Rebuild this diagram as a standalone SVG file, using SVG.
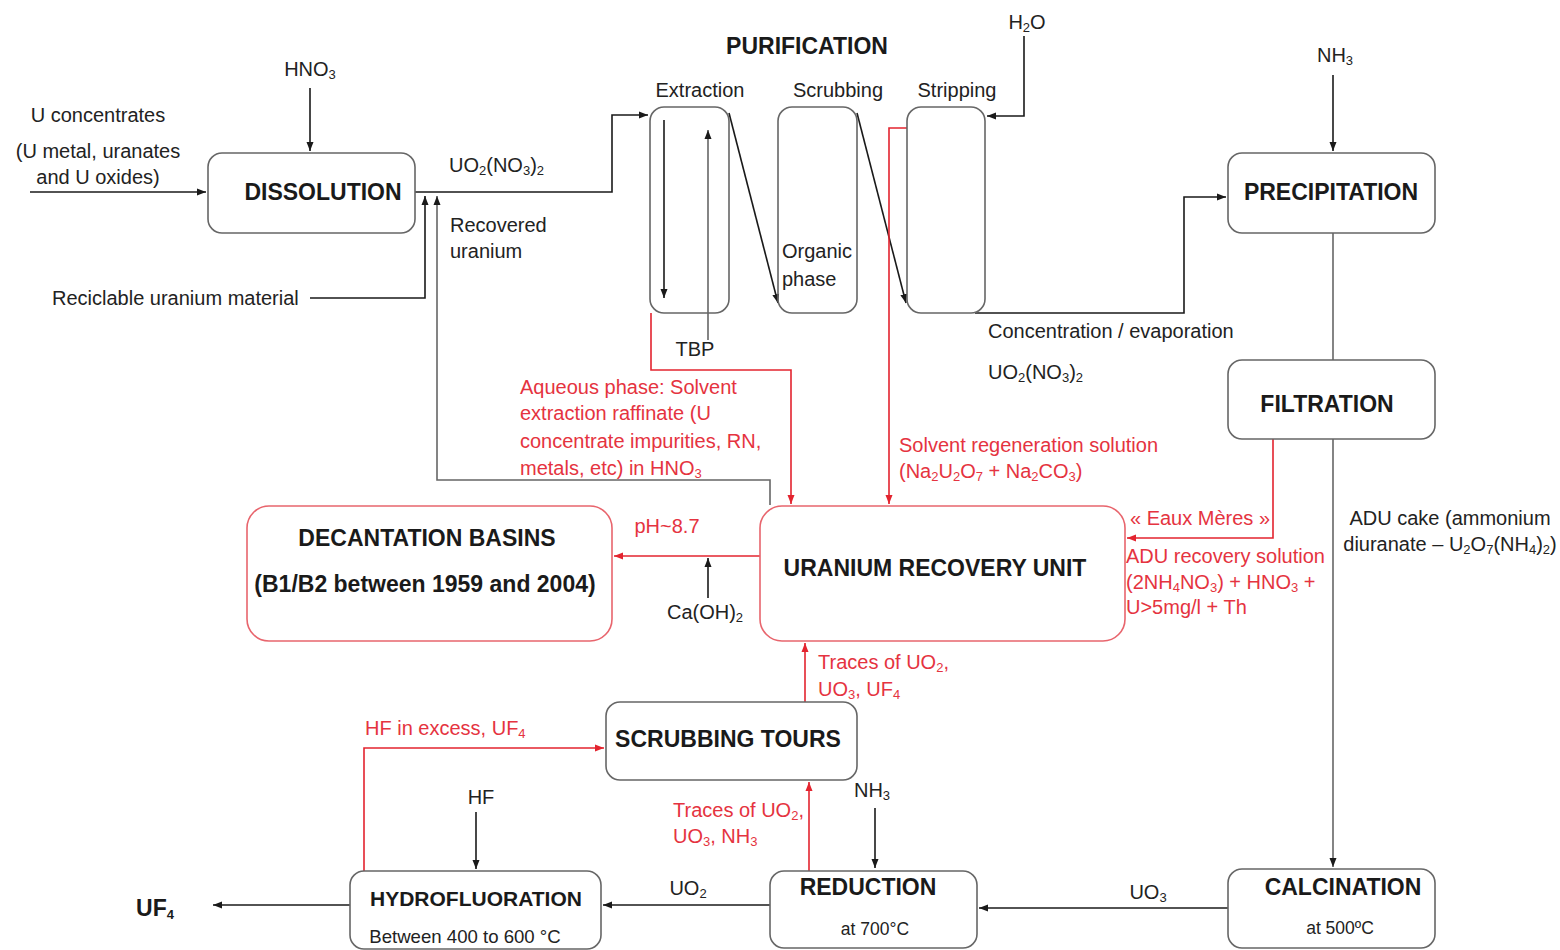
<svg xmlns="http://www.w3.org/2000/svg" width="1560" height="950" viewBox="0 0 1560 950">
<style>
text{font-family:"Liberation Sans",Arial,sans-serif;fill:#222;font-size:20px}
.b{font-weight:bold;font-size:23px;fill:#1a1a1a}
.r{fill:#e53340}
.m{text-anchor:middle}
.sub{font-size:13px}
.hf{font-size:21px}
.sm{font-size:17.5px}
.bt{font-size:18.6px}
.box{fill:#fff;stroke:#666;stroke-width:1.6}
.rbox{fill:#fff;stroke:#e8656d;stroke-width:1.6}
.k{fill:none;stroke:#1a1a1a;stroke-width:1.6}
.g{fill:none;stroke:#666;stroke-width:1.6}
.rl{fill:none;stroke:#e3242f;stroke-width:1.6}
</style>
<defs>
<marker id="ak" markerWidth="10" markerHeight="10" refX="9" refY="5" orient="auto" markerUnits="userSpaceOnUse"><path d="M0,1.5 L9,5 L0,8.5 z" fill="#1a1a1a"/></marker>
<marker id="ar" markerWidth="10" markerHeight="10" refX="9" refY="5" orient="auto" markerUnits="userSpaceOnUse"><path d="M0,1.5 L9,5 L0,8.5 z" fill="#e3242f"/></marker>
</defs>
<rect width="1560" height="950" fill="#fff"/>

<g id="connectors">
<path class="k" d="M30,192 H206" marker-end="url(#ak)"/>
<path class="k" d="M310,88 V151" marker-end="url(#ak)"/>
<path class="k" d="M415,192 H612 V115 H648" marker-end="url(#ak)"/>
<path class="k" d="M310,298 H425 V196" marker-end="url(#ak)"/>
<path class="g" d="M770,505 V480 H437 V196" marker-end="url(#ak)"/>
<path class="k" d="M664,120 V298" marker-end="url(#ak)"/>
<path class="g" d="M708,340 V130" marker-end="url(#ak)"/>
<path class="k" d="M729,113 L778,303" marker-end="url(#ak)"/>
<path class="k" d="M857,113 L906,303" marker-end="url(#ak)"/>
<path class="k" d="M1024,36 V116 H987" marker-end="url(#ak)"/>
<path class="k" d="M975,313 H1184 V197 H1226" marker-end="url(#ak)"/>
<path class="k" d="M1333,75 V151" marker-end="url(#ak)"/>
<path class="g" d="M1333,233 V360"/>
<path class="g" d="M1333,439 V867" marker-end="url(#ak)"/>
<path class="rl" d="M651,313 V370 H791 V504" marker-end="url(#ar)"/>
<path class="rl" d="M907,128 H889 V504" marker-end="url(#ar)"/>
<path class="rl" d="M1273,439 V538 H1127" marker-end="url(#ar)"/>
<path class="rl" d="M760,556 H614" marker-end="url(#ar)"/>
<path class="k" d="M708,598 V558" marker-end="url(#ak)"/>
<path class="rl" d="M805,702 V643" marker-end="url(#ar)"/>
<path class="rl" d="M364,871 V748 H604" marker-end="url(#ar)"/>
<path class="k" d="M476,812 V869" marker-end="url(#ak)"/>
<path class="rl" d="M809,871 V782" marker-end="url(#ar)"/>
<path class="k" d="M875,808 V868" marker-end="url(#ak)"/>
<path class="k" d="M770,905 H603" marker-end="url(#ak)"/>
<path class="k" d="M1228,908 H979" marker-end="url(#ak)"/>
<path class="k" d="M350,905 H213" marker-end="url(#ak)"/>
</g>

<g id="labels">
<text class="m" x="310" y="76">HNO<tspan class="sub" dy="3">3</tspan></text>
<text class="m" x="98" y="122">U concentrates</text>
<text class="m" x="98" y="158">(U metal, uranates</text>
<text class="m" x="98" y="184">and U oxides)</text>
<text x="449" y="172">UO<tspan class="sub" dy="3">2</tspan><tspan dy="-3">(NO</tspan><tspan class="sub" dy="3">3</tspan><tspan dy="-3">)</tspan><tspan class="sub" dy="3">2</tspan></text>
<text x="450" y="232">Recovered</text>
<text x="450" y="258">uranium</text>
<text x="52" y="305">Reciclable uranium material</text>
<text class="b m" x="807" y="54">PURIFICATION</text>
<text class="m" x="700" y="97">Extraction</text>
<text class="m" x="838" y="97">Scrubbing</text>
<text class="m" x="957" y="97">Stripping</text>
<text class="m" x="1027" y="29">H<tspan class="sub" dy="3">2</tspan><tspan dy="-3">O</tspan></text>
<text x="782" y="258">Organic</text>
<text x="782" y="286">phase</text>
<text class="m" x="695" y="356">TBP</text>
<text x="988" y="338">Concentration / evaporation</text>
<text x="988" y="379">UO<tspan class="sub" dy="3">2</tspan><tspan dy="-3">(NO</tspan><tspan class="sub" dy="3">3</tspan><tspan dy="-3">)</tspan><tspan class="sub" dy="3">2</tspan></text>
<text class="m" x="1335" y="62">NH<tspan class="sub" dy="3">3</tspan></text>
<text class="r" x="520" y="394">Aqueous phase: Solvent</text>
<text class="r" x="520" y="420">extraction raffinate (U</text>
<text class="r" x="520" y="448">concentrate impurities, RN,</text>
<text class="r" x="520" y="475">metals, etc) in HNO<tspan class="sub" dy="3">3</tspan></text>
<text class="r" x="899" y="452">Solvent regeneration solution</text>
<text class="r" x="899" y="478">(Na<tspan class="sub" dy="3">2</tspan><tspan dy="-3">U</tspan><tspan class="sub" dy="3">2</tspan><tspan dy="-3">O</tspan><tspan class="sub" dy="3">7</tspan><tspan dy="-3"> + Na</tspan><tspan class="sub" dy="3">2</tspan><tspan dy="-3">CO</tspan><tspan class="sub" dy="3">3</tspan><tspan dy="-3">)</tspan></text>
<text class="r m" x="1200" y="525">« Eaux Mères »</text>
<text class="r" x="1126" y="563">ADU recovery solution</text>
<text class="r" x="1126" y="589">(2NH<tspan class="sub" dy="3">4</tspan><tspan dy="-3">NO</tspan><tspan class="sub" dy="3">3</tspan><tspan dy="-3">) + HNO</tspan><tspan class="sub" dy="3">3</tspan><tspan dy="-3"> +</tspan></text>
<text class="r" x="1126" y="614">U&gt;5mg/l + Th</text>
<text class="m" x="1450" y="525">ADU cake (ammonium</text>
<text class="m" x="1450" y="551">diuranate – U<tspan class="sub" dy="3">2</tspan><tspan dy="-3">O</tspan><tspan class="sub" dy="3">7</tspan><tspan dy="-3">(NH</tspan><tspan class="sub" dy="3">4</tspan><tspan dy="-3">)</tspan><tspan class="sub" dy="3">2</tspan><tspan dy="-3">)</tspan></text>
<text class="r m" x="667" y="533">pH~8.7</text>
<text class="m" x="705" y="619">Ca(OH)<tspan class="sub" dy="3">2</tspan></text>
<text class="r" x="818" y="669">Traces of UO<tspan class="sub" dy="3">2</tspan><tspan dy="-3">,</tspan></text>
<text class="r" x="818" y="696">UO<tspan class="sub" dy="3">3</tspan><tspan dy="-3">, UF</tspan><tspan class="sub" dy="3">4</tspan></text>
<text class="r" x="365" y="735">HF in excess, UF<tspan class="sub" dy="3">4</tspan></text>
<text class="m" x="481" y="804">HF</text>
<text class="m" x="872" y="797">NH<tspan class="sub" dy="3">3</tspan></text>
<text class="r" x="673" y="817">Traces of UO<tspan class="sub" dy="3">2</tspan><tspan dy="-3">,</tspan></text>
<text class="r" x="673" y="843">UO<tspan class="sub" dy="3">3</tspan><tspan dy="-3">,  NH</tspan><tspan class="sub" dy="3">3</tspan></text>
<text class="m" x="688" y="895">UO<tspan class="sub" dy="3">2</tspan></text>
<text class="m" x="1148" y="899">UO<tspan class="sub" dy="3">3</tspan></text>
<text class="b m" x="155" y="916">UF<tspan class="sub" dy="3">4</tspan></text>
</g>

<g id="dissolution"><rect class="box" x="208" y="153" width="207" height="80" rx="14"/><text class="b m" x="323" y="200">DISSOLUTION</text></g>
<g id="extraction"><rect class="box" x="650" y="107" width="79" height="206" rx="14" fill-opacity="0"/></g>
<g id="scrubbing"><rect class="box" x="778" y="107" width="79" height="206" rx="14" fill-opacity="0"/></g>
<g id="stripping"><rect class="box" x="907" y="107" width="78" height="206" rx="14" fill-opacity="0"/></g>
<g id="precipitation"><rect class="box" x="1228" y="153" width="207" height="80" rx="14"/><text class="b m" x="1331" y="200">PRECIPITATION</text></g>
<g id="filtration"><rect class="box" x="1228" y="360" width="207" height="79" rx="14"/><text class="b m" x="1327" y="412">FILTRATION</text></g>
<g id="recovery"><rect class="rbox" x="760" y="506" width="365" height="135" rx="22"/><text class="b m" x="935" y="576">URANIUM RECOVERY UNIT</text></g>
<g id="decantation"><rect class="rbox" x="247" y="506" width="365" height="135" rx="22"/><text class="b m" x="427" y="546">DECANTATION BASINS</text><text class="b m" x="425" y="592">(B1/B2 between 1959 and 2004)</text></g>
<g id="scrubbing-tours"><rect class="box" x="606" y="702" width="251" height="78" rx="14"/><text class="b m" x="728" y="747">SCRUBBING TOURS</text></g>
<g id="hydrofluoration"><rect class="box" x="350" y="871" width="251" height="78" rx="14"/><text class="b m hf" x="476" y="906">HYDROFLUORATION</text><text class="m bt" x="465" y="943">Between 400 to 600 °C</text></g>
<g id="reduction"><rect class="box" x="770" y="871" width="207" height="77" rx="14"/><text class="b m" x="868" y="895">REDUCTION</text><text class="m sm" x="875" y="935">at 700°C</text></g>
<g id="calcination"><rect class="box" x="1228" y="869" width="207" height="79" rx="14"/><text class="b m" x="1343" y="895">CALCINATION</text><text class="m sm" x="1340" y="934">at 500ºC</text></g>
</svg>
